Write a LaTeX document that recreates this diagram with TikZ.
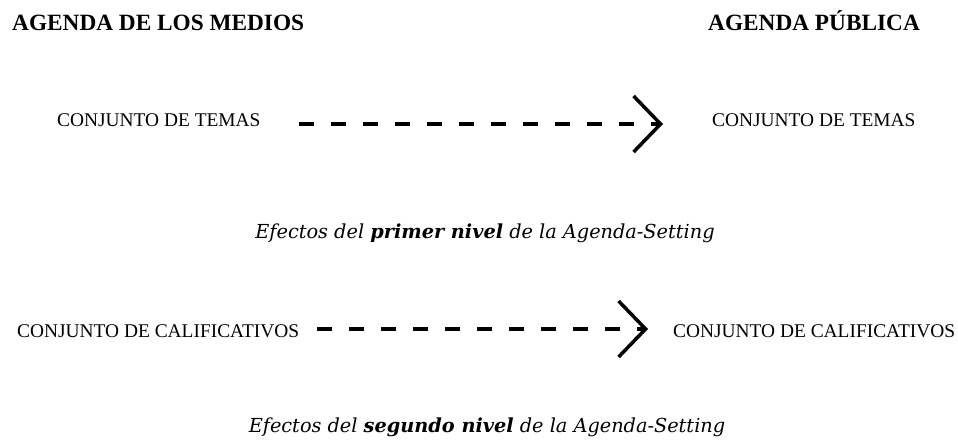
\documentclass[tikz,border=0pt]{standalone}
\usepackage{fontspec}
\setmainfont{Liberation Serif}
\newfontfamily\capfont{DejaVu Serif}
\usepackage{tikz}
\usetikzlibrary{arrows.meta, positioning}

\begin{document}
\begin{tikzpicture}[
    x=1pt, y=-1pt,
    heading/.style = {anchor=base west, inner sep=0pt, font=\fontsize{23.3}{26}\selectfont\bfseries},
    setbox/.style = {anchor=base west, inner sep=0pt, font=\fontsize{19.4}{22}\selectfont},
    caption/.style = {anchor=base, inner sep=0pt, font=\fontsize{19.3}{22}\selectfont\capfont\itshape},
    effect/.style = {line width=4pt, dash pattern=on 15pt off 17pt,
      -{Straight Barb[length=27pt, width=56pt, line width=3.5pt]}}]

\useasboundingbox (0,0) rectangle (958,439);

\node[heading] (medios) at (12,30) {AGENDA DE LOS MEDIOS};
\node[heading] (publica) at (708,30) {AGENDA PÚBLICA};

\node[setbox] (temasL) at (57,126) {CONJUNTO DE TEMAS};
\node[setbox] (temasR) at (712,126) {CONJUNTO DE TEMAS};
\node[caption] (primer) at (485,238) {Efectos del \textbf{primer nivel} de la Agenda-Setting};

\node[setbox] (califL) at (17,337) {CONJUNTO DE CALIFICATIVOS};
\node[setbox] (califR) at (673,337) {CONJUNTO DE CALIFICATIVOS};
\node[caption] (segundo) at (487,432) {Efectos del \textbf{segundo nivel} de la Agenda-Setting};

%connectors
\draw[effect, shorten <=38pt, shorten >=49pt]
  ([yshift=2pt]temasL.base east) -- ([yshift=2pt]temasR.base west);
\draw[effect, shorten <=18pt, shorten >=25pt]
  ([yshift=8pt]califL.base east) -- ([yshift=8pt]califR.base west);
\end{tikzpicture}
\end{document}
